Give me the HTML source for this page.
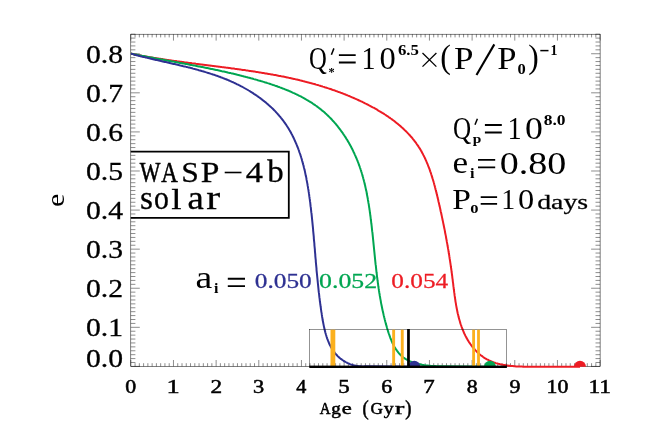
<!DOCTYPE html>
<html><head><meta charset="utf-8"><title>e vs Age</title>
<style>
html,body{margin:0;padding:0;background:#fff;}
svg{display:block;font-family:"Liberation Serif",serif;will-change:transform;}
</style></head>
<body>
<svg width="654" height="436" viewBox="0 0 654 436">
<rect width="654" height="436" fill="#fff"/>
<clipPath id="c"><rect x="130.8" y="34.2" width="469.3" height="333.7"/></clipPath><clipPath id="c2"><rect x="130.8" y="34.2" width="469.3" height="332.6"/></clipPath>
<path d="M130.80 366.4v-6.4M130.80 34.2v6.4M135.07 366.4v-3.2M135.07 34.2v3.2M139.33 366.4v-3.2M139.33 34.2v3.2M143.60 366.4v-3.2M143.60 34.2v3.2M147.87 366.4v-3.2M147.87 34.2v3.2M152.13 366.4v-3.2M152.13 34.2v3.2M156.40 366.4v-3.2M156.40 34.2v3.2M160.66 366.4v-3.2M160.66 34.2v3.2M164.93 366.4v-3.2M164.93 34.2v3.2M169.20 366.4v-3.2M169.20 34.2v3.2M173.46 366.4v-6.4M173.46 34.2v6.4M177.73 366.4v-3.2M177.73 34.2v3.2M182.00 366.4v-3.2M182.00 34.2v3.2M186.26 366.4v-3.2M186.26 34.2v3.2M190.53 366.4v-3.2M190.53 34.2v3.2M194.80 366.4v-3.2M194.80 34.2v3.2M199.06 366.4v-3.2M199.06 34.2v3.2M203.33 366.4v-3.2M203.33 34.2v3.2M207.59 366.4v-3.2M207.59 34.2v3.2M211.86 366.4v-3.2M211.86 34.2v3.2M216.13 366.4v-6.4M216.13 34.2v6.4M220.39 366.4v-3.2M220.39 34.2v3.2M224.66 366.4v-3.2M224.66 34.2v3.2M228.93 366.4v-3.2M228.93 34.2v3.2M233.19 366.4v-3.2M233.19 34.2v3.2M237.46 366.4v-3.2M237.46 34.2v3.2M241.73 366.4v-3.2M241.73 34.2v3.2M245.99 366.4v-3.2M245.99 34.2v3.2M250.26 366.4v-3.2M250.26 34.2v3.2M254.52 366.4v-3.2M254.52 34.2v3.2M258.79 366.4v-6.4M258.79 34.2v6.4M263.06 366.4v-3.2M263.06 34.2v3.2M267.32 366.4v-3.2M267.32 34.2v3.2M271.59 366.4v-3.2M271.59 34.2v3.2M275.86 366.4v-3.2M275.86 34.2v3.2M280.12 366.4v-3.2M280.12 34.2v3.2M284.39 366.4v-3.2M284.39 34.2v3.2M288.66 366.4v-3.2M288.66 34.2v3.2M292.92 366.4v-3.2M292.92 34.2v3.2M297.19 366.4v-3.2M297.19 34.2v3.2M301.45 366.4v-6.4M301.45 34.2v6.4M305.72 366.4v-3.2M305.72 34.2v3.2M309.99 366.4v-3.2M309.99 34.2v3.2M314.25 366.4v-3.2M314.25 34.2v3.2M318.52 366.4v-3.2M318.52 34.2v3.2M322.79 366.4v-3.2M322.79 34.2v3.2M327.05 366.4v-3.2M327.05 34.2v3.2M331.32 366.4v-3.2M331.32 34.2v3.2M335.59 366.4v-3.2M335.59 34.2v3.2M339.85 366.4v-3.2M339.85 34.2v3.2M344.12 366.4v-6.4M344.12 34.2v6.4M348.38 366.4v-3.2M348.38 34.2v3.2M352.65 366.4v-3.2M352.65 34.2v3.2M356.92 366.4v-3.2M356.92 34.2v3.2M361.18 366.4v-3.2M361.18 34.2v3.2M365.45 366.4v-3.2M365.45 34.2v3.2M369.72 366.4v-3.2M369.72 34.2v3.2M373.98 366.4v-3.2M373.98 34.2v3.2M378.25 366.4v-3.2M378.25 34.2v3.2M382.52 366.4v-3.2M382.52 34.2v3.2M386.78 366.4v-6.4M386.78 34.2v6.4M391.05 366.4v-3.2M391.05 34.2v3.2M395.31 366.4v-3.2M395.31 34.2v3.2M399.58 366.4v-3.2M399.58 34.2v3.2M403.85 366.4v-3.2M403.85 34.2v3.2M408.11 366.4v-3.2M408.11 34.2v3.2M412.38 366.4v-3.2M412.38 34.2v3.2M416.65 366.4v-3.2M416.65 34.2v3.2M420.91 366.4v-3.2M420.91 34.2v3.2M425.18 366.4v-3.2M425.18 34.2v3.2M429.45 366.4v-6.4M429.45 34.2v6.4M433.71 366.4v-3.2M433.71 34.2v3.2M437.98 366.4v-3.2M437.98 34.2v3.2M442.24 366.4v-3.2M442.24 34.2v3.2M446.51 366.4v-3.2M446.51 34.2v3.2M450.78 366.4v-3.2M450.78 34.2v3.2M455.04 366.4v-3.2M455.04 34.2v3.2M459.31 366.4v-3.2M459.31 34.2v3.2M463.58 366.4v-3.2M463.58 34.2v3.2M467.84 366.4v-3.2M467.84 34.2v3.2M472.11 366.4v-6.4M472.11 34.2v6.4M476.38 366.4v-3.2M476.38 34.2v3.2M480.64 366.4v-3.2M480.64 34.2v3.2M484.91 366.4v-3.2M484.91 34.2v3.2M489.17 366.4v-3.2M489.17 34.2v3.2M493.44 366.4v-3.2M493.44 34.2v3.2M497.71 366.4v-3.2M497.71 34.2v3.2M501.97 366.4v-3.2M501.97 34.2v3.2M506.24 366.4v-3.2M506.24 34.2v3.2M510.51 366.4v-3.2M510.51 34.2v3.2M514.77 366.4v-6.4M514.77 34.2v6.4M519.04 366.4v-3.2M519.04 34.2v3.2M523.31 366.4v-3.2M523.31 34.2v3.2M527.57 366.4v-3.2M527.57 34.2v3.2M531.84 366.4v-3.2M531.84 34.2v3.2M536.10 366.4v-3.2M536.10 34.2v3.2M540.37 366.4v-3.2M540.37 34.2v3.2M544.64 366.4v-3.2M544.64 34.2v3.2M548.90 366.4v-3.2M548.90 34.2v3.2M553.17 366.4v-3.2M553.17 34.2v3.2M557.44 366.4v-6.4M557.44 34.2v6.4M561.70 366.4v-3.2M561.70 34.2v3.2M565.97 366.4v-3.2M565.97 34.2v3.2M570.24 366.4v-3.2M570.24 34.2v3.2M574.50 366.4v-3.2M574.50 34.2v3.2M578.77 366.4v-3.2M578.77 34.2v3.2M583.03 366.4v-3.2M583.03 34.2v3.2M587.30 366.4v-3.2M587.30 34.2v3.2M591.57 366.4v-3.2M591.57 34.2v3.2M595.83 366.4v-3.2M595.83 34.2v3.2M600.10 366.4v-6.4M600.10 34.2v6.4M130.8 366.40h9M600.1 366.40h-9M130.8 362.49h4.6M600.1 362.49h-4.6M130.8 358.58h4.6M600.1 358.58h-4.6M130.8 354.68h4.6M600.1 354.68h-4.6M130.8 350.77h4.6M600.1 350.77h-4.6M130.8 346.86h4.6M600.1 346.86h-4.6M130.8 342.95h4.6M600.1 342.95h-4.6M130.8 339.04h4.6M600.1 339.04h-4.6M130.8 335.13h4.6M600.1 335.13h-4.6M130.8 331.23h4.6M600.1 331.23h-4.6M130.8 327.32h9M600.1 327.32h-9M130.8 323.41h4.6M600.1 323.41h-4.6M130.8 319.50h4.6M600.1 319.50h-4.6M130.8 315.59h4.6M600.1 315.59h-4.6M130.8 311.68h4.6M600.1 311.68h-4.6M130.8 307.78h4.6M600.1 307.78h-4.6M130.8 303.87h4.6M600.1 303.87h-4.6M130.8 299.96h4.6M600.1 299.96h-4.6M130.8 296.05h4.6M600.1 296.05h-4.6M130.8 292.14h4.6M600.1 292.14h-4.6M130.8 288.24h9M600.1 288.24h-9M130.8 284.33h4.6M600.1 284.33h-4.6M130.8 280.42h4.6M600.1 280.42h-4.6M130.8 276.51h4.6M600.1 276.51h-4.6M130.8 272.60h4.6M600.1 272.60h-4.6M130.8 268.69h4.6M600.1 268.69h-4.6M130.8 264.79h4.6M600.1 264.79h-4.6M130.8 260.88h4.6M600.1 260.88h-4.6M130.8 256.97h4.6M600.1 256.97h-4.6M130.8 253.06h4.6M600.1 253.06h-4.6M130.8 249.15h9M600.1 249.15h-9M130.8 245.24h4.6M600.1 245.24h-4.6M130.8 241.34h4.6M600.1 241.34h-4.6M130.8 237.43h4.6M600.1 237.43h-4.6M130.8 233.52h4.6M600.1 233.52h-4.6M130.8 229.61h4.6M600.1 229.61h-4.6M130.8 225.70h4.6M600.1 225.70h-4.6M130.8 221.80h4.6M600.1 221.80h-4.6M130.8 217.89h4.6M600.1 217.89h-4.6M130.8 213.98h4.6M600.1 213.98h-4.6M130.8 210.07h9M600.1 210.07h-9M130.8 206.16h4.6M600.1 206.16h-4.6M130.8 202.25h4.6M600.1 202.25h-4.6M130.8 198.35h4.6M600.1 198.35h-4.6M130.8 194.44h4.6M600.1 194.44h-4.6M130.8 190.53h4.6M600.1 190.53h-4.6M130.8 186.62h4.6M600.1 186.62h-4.6M130.8 182.71h4.6M600.1 182.71h-4.6M130.8 178.80h4.6M600.1 178.80h-4.6M130.8 174.90h4.6M600.1 174.90h-4.6M130.8 170.99h9M600.1 170.99h-9M130.8 167.08h4.6M600.1 167.08h-4.6M130.8 163.17h4.6M600.1 163.17h-4.6M130.8 159.26h4.6M600.1 159.26h-4.6M130.8 155.36h4.6M600.1 155.36h-4.6M130.8 151.45h4.6M600.1 151.45h-4.6M130.8 147.54h4.6M600.1 147.54h-4.6M130.8 143.63h4.6M600.1 143.63h-4.6M130.8 139.72h4.6M600.1 139.72h-4.6M130.8 135.81h4.6M600.1 135.81h-4.6M130.8 131.91h9M600.1 131.91h-9M130.8 128.00h4.6M600.1 128.00h-4.6M130.8 124.09h4.6M600.1 124.09h-4.6M130.8 120.18h4.6M600.1 120.18h-4.6M130.8 116.27h4.6M600.1 116.27h-4.6M130.8 112.36h4.6M600.1 112.36h-4.6M130.8 108.46h4.6M600.1 108.46h-4.6M130.8 104.55h4.6M600.1 104.55h-4.6M130.8 100.64h4.6M600.1 100.64h-4.6M130.8 96.73h4.6M600.1 96.73h-4.6M130.8 92.82h9M600.1 92.82h-9M130.8 88.92h4.6M600.1 88.92h-4.6M130.8 85.01h4.6M600.1 85.01h-4.6M130.8 81.10h4.6M600.1 81.10h-4.6M130.8 77.19h4.6M600.1 77.19h-4.6M130.8 73.28h4.6M600.1 73.28h-4.6M130.8 69.37h4.6M600.1 69.37h-4.6M130.8 65.47h4.6M600.1 65.47h-4.6M130.8 61.56h4.6M600.1 61.56h-4.6M130.8 57.65h4.6M600.1 57.65h-4.6M130.8 53.74h9M600.1 53.74h-9M130.8 49.83h4.6M600.1 49.83h-4.6M130.8 45.92h4.6M600.1 45.92h-4.6M130.8 42.02h4.6M600.1 42.02h-4.6M130.8 38.11h4.6M600.1 38.11h-4.6M130.8 34.20h4.6M600.1 34.20h-4.6" stroke="#000" stroke-width="0.45" fill="none"/>
<rect x="130.8" y="34.2" width="469.3" height="332.2" fill="none" stroke="#000" stroke-width="0.5"/>
<g clip-path="url(#c)" fill="none" stroke-width="2" stroke-linejoin="round">
<path d="M130.8 53.6 L131.8 53.8 L132.7 54.0 L133.7 54.2 L134.7 54.4 L135.7 54.6 L136.6 54.8 L137.6 54.9 L138.6 55.1 L139.6 55.3 L140.5 55.5 L141.5 55.7 L142.5 55.9 L143.5 56.0 L144.4 56.2 L145.4 56.4 L146.4 56.6 L147.4 56.7 L148.4 56.9 L149.3 57.1 L150.3 57.2 L151.3 57.4 L152.3 57.6 L153.3 57.7 L154.3 57.9 L155.2 58.0 L156.2 58.2 L157.2 58.4 L158.2 58.5 L159.2 58.7 L160.2 58.8 L161.2 59.0 L162.1 59.1 L163.1 59.3 L164.1 59.4 L165.1 59.6 L166.1 59.7 L167.1 59.9 L168.1 60.0 L169.1 60.2 L170.1 60.3 L171.0 60.4 L172.0 60.6 L173.0 60.7 L174.0 60.9 L175.0 61.0 L176.0 61.1 L177.0 61.3 L178.0 61.4 L179.0 61.5 L180.0 61.7 L181.0 61.8 L182.0 62.0 L183.0 62.1 L183.9 62.2 L184.9 62.4 L185.9 62.5 L186.9 62.6 L187.9 62.7 L188.9 62.9 L189.9 63.0 L190.9 63.1 L191.9 63.3 L192.9 63.4 L193.9 63.5 L194.9 63.6 L195.9 63.8 L196.9 63.9 L197.9 64.0 L198.9 64.2 L199.9 64.3 L200.9 64.4 L201.9 64.5 L202.9 64.7 L203.9 64.8 L204.9 64.9 L205.9 65.0 L206.9 65.2 L207.9 65.3 L208.9 65.4 L209.9 65.5 L210.8 65.7 L211.8 65.8 L212.8 65.9 L213.8 66.0 L214.8 66.2 L215.8 66.3 L216.8 66.4 L217.8 66.5 L218.8 66.7 L219.8 66.8 L220.8 66.9 L221.8 67.1 L222.8 67.2 L223.8 67.3 L224.8 67.4 L225.8 67.6 L226.8 67.7 L227.8 67.8 L228.8 68.0 L229.8 68.1 L230.8 68.2 L231.8 68.4 L232.8 68.5 L233.8 68.6 L234.8 68.8 L235.8 68.9 L236.8 69.0 L237.8 69.2 L238.8 69.3 L239.8 69.4 L240.8 69.6 L241.7 69.7 L242.7 69.9 L243.7 70.0 L244.7 70.1 L245.7 70.3 L246.7 70.4 L247.7 70.6 L248.7 70.7 L249.7 70.9 L250.7 71.0 L251.7 71.2 L252.7 71.3 L253.7 71.5 L254.7 71.6 L255.6 71.8 L256.6 71.9 L257.6 72.1 L258.6 72.2 L259.6 72.4 L260.6 72.6 L261.6 72.7 L262.6 72.9 L263.6 73.0 L264.5 73.2 L265.5 73.4 L266.5 73.5 L267.5 73.7 L268.5 73.9 L269.5 74.1 L270.5 74.2 L271.5 74.4 L272.4 74.6 L273.4 74.8 L274.4 74.9 L275.4 75.1 L276.4 75.3 L277.3 75.5 L278.3 75.7 L279.3 75.9 L280.3 76.1 L281.3 76.3 L282.3 76.4 L283.2 76.6 L284.2 76.8 L285.2 77.0 L286.2 77.2 L287.1 77.4 L288.1 77.6 L289.1 77.9 L290.1 78.1 L291.0 78.3 L292.0 78.5 L293.0 78.7 L294.0 78.9 L294.9 79.1 L295.9 79.4 L296.9 79.6 L297.8 79.8 L298.8 80.0 L299.8 80.3 L300.8 80.5 L301.7 80.7 L302.7 81.0 L303.7 81.2 L304.6 81.5 L305.6 81.7 L306.5 82.0 L307.5 82.2 L308.5 82.5 L309.4 82.7 L310.4 83.0 L311.4 83.2 L312.3 83.5 L313.3 83.8 L314.2 84.0 L315.2 84.3 L316.1 84.6 L317.1 84.9 L318.1 85.1 L319.0 85.4 L320.0 85.7 L320.9 86.0 L321.9 86.3 L322.8 86.6 L323.8 86.9 L324.7 87.2 L325.7 87.5 L326.6 87.8 L327.6 88.1 L328.5 88.4 L329.5 88.7 L330.4 89.0 L331.3 89.3 L332.3 89.7 L333.2 90.0 L334.2 90.3 L335.1 90.6 L336.0 91.0 L337.0 91.3 L337.9 91.7 L338.8 92.0 L339.8 92.3 L340.7 92.7 L341.6 93.0 L342.6 93.4 L343.5 93.8 L344.4 94.1 L345.4 94.5 L346.3 94.9 L347.2 95.2 L348.1 95.6 L349.1 96.0 L350.0 96.4 L350.9 96.8 L351.8 97.2 L352.8 97.6 L353.7 98.0 L354.6 98.4 L355.5 98.8 L356.4 99.2 L357.3 99.6 L358.2 100.0 L359.2 100.5 L360.1 100.9 L361.0 101.3 L361.9 101.7 L362.8 102.2 L363.7 102.6 L364.6 103.1 L365.5 103.5 L366.4 104.0 L367.3 104.4 L368.2 104.9 L369.1 105.4 L370.0 105.8 L370.9 106.3 L371.8 106.8 L372.7 107.3 L373.6 107.7 L374.5 108.2 L375.3 108.7 L376.2 109.2 L377.1 109.7 L378.0 110.3 L378.8 110.8 L379.7 111.3 L380.6 111.8 L381.4 112.3 L382.3 112.9 L383.2 113.4 L384.0 113.9 L384.9 114.5 L385.7 115.0 L386.5 115.6 L387.4 116.2 L388.2 116.7 L389.0 117.3 L389.9 117.9 L390.7 118.5 L391.5 119.0 L392.3 119.6 L393.1 120.2 L393.9 120.8 L394.7 121.4 L395.5 122.1 L396.3 122.7 L397.0 123.3 L397.8 123.9 L398.6 124.6 L399.4 125.2 L400.1 125.9 L400.9 126.5 L401.6 127.2 L402.3 127.8 L403.1 128.5 L403.8 129.2 L404.5 129.9 L405.2 130.5 L405.9 131.2 L406.6 131.9 L407.3 132.6 L408.0 133.4 L408.7 134.1 L409.3 134.8 L410.0 135.5 L410.7 136.3 L411.3 137.0 L411.9 137.7 L412.6 138.5 L413.2 139.3 L413.8 140.0 L414.4 140.8 L415.0 141.6 L415.6 142.4 L416.2 143.2 L416.7 144.0 L417.3 144.8 L417.9 145.6 L418.4 146.4 L418.9 147.2 L419.5 148.1 L420.0 148.9 L420.5 149.7 L421.0 150.6 L421.5 151.4 L421.9 152.3 L422.4 153.2 L422.9 154.1 L423.3 154.9 L423.8 155.8 L424.2 156.7 L424.7 157.6 L425.1 158.5 L425.5 159.4 L425.9 160.3 L426.3 161.2 L426.7 162.2 L427.1 163.1 L427.5 164.0 L427.9 165.0 L428.2 165.9 L428.6 166.8 L429.0 167.8 L429.3 168.7 L429.7 169.7 L430.0 170.6 L430.3 171.6 L430.7 172.5 L431.0 173.5 L431.3 174.5 L431.6 175.4 L431.9 176.4 L432.2 177.4 L432.5 178.4 L432.8 179.3 L433.1 180.3 L433.4 181.3 L433.7 182.3 L434.0 183.2 L434.2 184.2 L434.5 185.2 L434.8 186.2 L435.0 187.2 L435.3 188.2 L435.5 189.2 L435.8 190.2 L436.0 191.1 L436.3 192.1 L436.5 193.1 L436.8 194.1 L437.0 195.1 L437.3 196.1 L437.5 197.1 L437.7 198.1 L438.0 199.0 L438.2 200.0 L438.4 201.0 L438.6 202.0 L438.9 203.0 L439.1 204.0 L439.3 204.9 L439.5 205.9 L439.8 206.9 L440.0 207.9 L440.2 208.8 L440.4 209.8 L440.6 210.8 L440.8 211.8 L441.1 212.7 L441.3 213.7 L441.5 214.7 L441.7 215.6 L441.9 216.6 L442.1 217.6 L442.3 218.5 L442.5 219.5 L442.7 220.5 L442.9 221.4 L443.1 222.4 L443.3 223.4 L443.5 224.3 L443.7 225.3 L443.9 226.3 L444.1 227.2 L444.3 228.2 L444.5 229.1 L444.7 230.1 L444.9 231.1 L445.0 232.0 L445.2 233.0 L445.4 234.0 L445.6 234.9 L445.8 235.9 L446.0 236.8 L446.1 237.8 L446.3 238.8 L446.5 239.7 L446.7 240.7 L446.8 241.7 L447.0 242.6 L447.2 243.6 L447.4 244.6 L447.5 245.5 L447.7 246.5 L447.9 247.5 L448.0 248.4 L448.2 249.4 L448.4 250.4 L448.5 251.3 L448.7 252.3 L448.8 253.3 L449.0 254.3 L449.2 255.2 L449.3 256.2 L449.5 257.2 L449.6 258.2 L449.8 259.2 L449.9 260.1 L450.1 261.1 L450.2 262.1 L450.4 263.1 L450.5 264.1 L450.7 265.1 L450.8 266.1 L450.9 267.0 L451.1 268.0 L451.2 269.0 L451.4 270.0 L451.5 271.0 L451.6 272.0 L451.8 273.0 L451.9 274.0 L452.0 275.0 L452.2 276.0 L452.3 277.1 L452.4 278.1 L452.6 279.1 L452.7 280.1 L452.8 281.1 L452.9 282.1 L453.1 283.1 L453.2 284.2 L453.3 285.2 L453.4 286.2 L453.6 287.2 L453.7 288.3 L453.8 289.3 L454.0 290.3 L454.1 291.3 L454.2 292.4 L454.4 293.4 L454.5 294.4 L454.6 295.4 L454.8 296.5 L454.9 297.5 L455.1 298.5 L455.2 299.5 L455.4 300.6 L455.5 301.6 L455.7 302.6 L455.9 303.6 L456.0 304.6 L456.2 305.6 L456.4 306.6 L456.6 307.7 L456.8 308.7 L457.0 309.7 L457.2 310.7 L457.4 311.7 L457.6 312.7 L457.8 313.7 L458.1 314.6 L458.3 315.6 L458.5 316.6 L458.8 317.6 L459.0 318.6 L459.3 319.5 L459.6 320.5 L459.9 321.5 L460.1 322.4 L460.4 323.4 L460.7 324.3 L461.1 325.3 L461.4 326.2 L461.7 327.1 L462.1 328.1 L462.4 329.0 L462.8 329.9 L463.2 330.8 L463.5 331.7 L463.9 332.6 L464.3 333.5 L464.8 334.4 L465.2 335.3 L465.6 336.2 L466.1 337.0 L466.5 337.9 L467.0 338.7 L467.5 339.6 L468.0 340.4 L468.5 341.2 L469.0 342.1 L469.6 342.9 L470.1 343.7 L470.7 344.5 L471.3 345.3 L471.8 346.0 L472.4 346.8 L473.0 347.5 L473.7 348.3 L474.3 349.0 L474.9 349.7 L475.6 350.4 L476.3 351.1 L476.9 351.8 L477.6 352.5 L478.3 353.1 L479.1 353.7 L479.8 354.4 L480.5 355.0 L481.3 355.6 L482.1 356.1 L482.8 356.7 L483.6 357.3 L484.4 357.8 L485.2 358.3 L486.1 358.8 L486.9 359.3 L487.7 359.7 L488.6 360.2 L489.5 360.6 L490.4 361.0 L491.3 361.4 L492.2 361.8 L493.1 362.1 L494.0 362.5 L495.0 362.8 L495.9 363.1 L496.9 363.4 L497.8 363.6 L498.8 363.9 L499.8 364.1 L500.8 364.4 L501.8 364.6 L502.8 364.8 L503.8 365.0 L504.8 365.1 L505.8 365.3 L506.8 365.5 L507.8 365.6 L508.8 365.7 L509.9 365.8 L510.9 366.0 L511.9 366.1 L512.9 366.1 L514.0 366.2 L515.0 366.3 L516.0 366.4 L517.0 366.4 L518.0 366.5 L519.0 366.5 L520.0 366.6 L521.0 366.6 L522.0 366.6 L523.0 366.7 L524.0 366.7 L525.0 366.7 L580.0 366.7" stroke="#ed1c24"/>
<path d="M130.8 53.6 L131.8 53.8 L132.8 54.0 L133.8 54.2 L134.8 54.4 L135.8 54.6 L136.8 54.8 L137.7 55.0 L138.7 55.2 L139.7 55.4 L140.7 55.6 L141.7 55.8 L142.7 55.9 L143.7 56.1 L144.7 56.3 L145.7 56.5 L146.6 56.7 L147.6 56.9 L148.6 57.1 L149.6 57.3 L150.6 57.4 L151.6 57.6 L152.6 57.8 L153.5 58.0 L154.5 58.2 L155.5 58.4 L156.5 58.6 L157.5 58.7 L158.5 58.9 L159.4 59.1 L160.4 59.3 L161.4 59.5 L162.4 59.6 L163.4 59.8 L164.4 60.0 L165.3 60.2 L166.3 60.4 L167.3 60.5 L168.3 60.7 L169.3 60.9 L170.2 61.1 L171.2 61.3 L172.2 61.4 L173.2 61.6 L174.2 61.8 L175.1 62.0 L176.1 62.2 L177.1 62.3 L178.1 62.5 L179.1 62.7 L180.0 62.9 L181.0 63.0 L182.0 63.2 L183.0 63.4 L183.9 63.6 L184.9 63.8 L185.9 64.0 L186.9 64.1 L187.8 64.3 L188.8 64.5 L189.8 64.7 L190.8 64.9 L191.7 65.1 L192.7 65.2 L193.7 65.4 L194.7 65.6 L195.6 65.8 L196.6 66.0 L197.6 66.2 L198.6 66.4 L199.5 66.5 L200.5 66.7 L201.5 66.9 L202.5 67.1 L203.4 67.3 L204.4 67.5 L205.4 67.7 L206.4 67.9 L207.3 68.1 L208.3 68.3 L209.3 68.5 L210.2 68.7 L211.2 68.9 L212.2 69.1 L213.2 69.3 L214.1 69.5 L215.1 69.7 L216.1 69.9 L217.1 70.1 L218.0 70.3 L219.0 70.5 L220.0 70.7 L220.9 70.9 L221.9 71.2 L222.9 71.4 L223.9 71.6 L224.8 71.8 L225.8 72.0 L226.8 72.2 L227.7 72.5 L228.7 72.7 L229.7 72.9 L230.7 73.1 L231.6 73.4 L232.6 73.6 L233.6 73.8 L234.5 74.1 L235.5 74.3 L236.5 74.5 L237.4 74.8 L238.4 75.0 L239.4 75.2 L240.4 75.5 L241.3 75.7 L242.3 76.0 L243.3 76.2 L244.2 76.5 L245.2 76.7 L246.2 77.0 L247.2 77.2 L248.1 77.5 L249.1 77.7 L250.1 78.0 L251.0 78.3 L252.0 78.5 L253.0 78.8 L253.9 79.1 L254.9 79.4 L255.9 79.6 L256.9 79.9 L257.8 80.2 L258.8 80.5 L259.8 80.7 L260.7 81.0 L261.7 81.3 L262.7 81.6 L263.7 81.9 L264.6 82.2 L265.6 82.5 L266.6 82.8 L267.5 83.1 L268.5 83.4 L269.5 83.7 L270.4 84.0 L271.4 84.4 L272.4 84.7 L273.3 85.0 L274.3 85.3 L275.2 85.7 L276.2 86.0 L277.1 86.3 L278.1 86.7 L279.0 87.0 L280.0 87.4 L280.9 87.7 L281.9 88.1 L282.8 88.5 L283.8 88.8 L284.7 89.2 L285.7 89.6 L286.6 90.0 L287.5 90.3 L288.5 90.7 L289.4 91.1 L290.3 91.5 L291.2 91.9 L292.1 92.3 L293.1 92.8 L294.0 93.2 L294.9 93.6 L295.8 94.0 L296.7 94.5 L297.6 94.9 L298.5 95.3 L299.4 95.8 L300.3 96.2 L301.2 96.7 L302.0 97.2 L302.9 97.6 L303.8 98.1 L304.7 98.6 L305.5 99.1 L306.4 99.6 L307.2 100.1 L308.1 100.6 L308.9 101.1 L309.8 101.6 L310.6 102.2 L311.5 102.7 L312.3 103.2 L313.1 103.8 L313.9 104.3 L314.8 104.9 L315.6 105.5 L316.4 106.0 L317.2 106.6 L318.0 107.2 L318.7 107.8 L319.5 108.4 L320.3 109.0 L321.1 109.6 L321.8 110.2 L322.6 110.9 L323.4 111.5 L324.1 112.1 L324.9 112.8 L325.6 113.5 L326.3 114.1 L327.0 114.8 L327.8 115.5 L328.5 116.2 L329.2 116.9 L329.9 117.6 L330.6 118.3 L331.3 119.0 L331.9 119.7 L332.6 120.5 L333.3 121.2 L333.9 121.9 L334.6 122.7 L335.3 123.4 L335.9 124.2 L336.5 125.0 L337.2 125.7 L337.8 126.5 L338.4 127.3 L339.0 128.1 L339.6 128.9 L340.2 129.7 L340.8 130.5 L341.4 131.3 L342.0 132.1 L342.6 132.9 L343.1 133.7 L343.7 134.6 L344.3 135.4 L344.8 136.2 L345.4 137.1 L345.9 137.9 L346.4 138.8 L347.0 139.6 L347.5 140.5 L348.0 141.4 L348.5 142.2 L349.0 143.1 L349.5 144.0 L350.0 144.9 L350.5 145.7 L350.9 146.6 L351.4 147.5 L351.9 148.4 L352.3 149.3 L352.8 150.2 L353.2 151.1 L353.6 152.0 L354.1 152.9 L354.5 153.8 L354.9 154.8 L355.3 155.7 L355.7 156.6 L356.1 157.5 L356.5 158.4 L356.9 159.4 L357.3 160.3 L357.6 161.2 L358.0 162.2 L358.4 163.1 L358.7 164.0 L359.0 165.0 L359.4 165.9 L359.7 166.8 L360.0 167.8 L360.4 168.7 L360.7 169.7 L361.0 170.6 L361.3 171.6 L361.6 172.5 L361.9 173.5 L362.2 174.4 L362.4 175.4 L362.7 176.4 L363.0 177.3 L363.2 178.3 L363.5 179.2 L363.8 180.2 L364.0 181.2 L364.3 182.1 L364.5 183.1 L364.7 184.1 L365.0 185.0 L365.2 186.0 L365.4 187.0 L365.6 187.9 L365.8 188.9 L366.0 189.9 L366.3 190.9 L366.5 191.8 L366.7 192.8 L366.8 193.8 L367.0 194.8 L367.2 195.8 L367.4 196.7 L367.6 197.7 L367.8 198.7 L367.9 199.7 L368.1 200.7 L368.3 201.7 L368.4 202.7 L368.6 203.6 L368.8 204.6 L368.9 205.6 L369.1 206.6 L369.2 207.6 L369.4 208.6 L369.5 209.6 L369.7 210.6 L369.8 211.5 L369.9 212.5 L370.1 213.5 L370.2 214.5 L370.3 215.5 L370.5 216.5 L370.6 217.5 L370.7 218.5 L370.8 219.5 L371.0 220.5 L371.1 221.5 L371.2 222.5 L371.3 223.5 L371.5 224.5 L371.6 225.5 L371.7 226.4 L371.8 227.4 L371.9 228.4 L372.0 229.4 L372.1 230.4 L372.2 231.4 L372.4 232.4 L372.5 233.4 L372.6 234.4 L372.7 235.4 L372.8 236.4 L372.9 237.4 L373.0 238.4 L373.1 239.4 L373.2 240.4 L373.3 241.4 L373.4 242.4 L373.5 243.4 L373.6 244.4 L373.7 245.4 L373.8 246.4 L373.9 247.4 L374.0 248.4 L374.1 249.4 L374.2 250.4 L374.3 251.4 L374.4 252.4 L374.5 253.4 L374.6 254.4 L374.7 255.4 L374.8 256.4 L374.9 257.4 L375.0 258.4 L375.1 259.4 L375.2 260.4 L375.3 261.4 L375.4 262.4 L375.5 263.4 L375.6 264.4 L375.8 265.4 L375.9 266.4 L376.0 267.4 L376.1 268.4 L376.2 269.4 L376.3 270.3 L376.4 271.3 L376.5 272.3 L376.7 273.3 L376.8 274.3 L376.9 275.3 L377.0 276.3 L377.1 277.3 L377.3 278.3 L377.4 279.3 L377.5 280.3 L377.7 281.3 L377.8 282.3 L377.9 283.3 L378.1 284.3 L378.2 285.3 L378.3 286.3 L378.5 287.3 L378.6 288.2 L378.8 289.2 L378.9 290.2 L379.1 291.2 L379.2 292.2 L379.4 293.2 L379.6 294.2 L379.7 295.2 L379.9 296.2 L380.1 297.2 L380.2 298.1 L380.4 299.1 L380.6 300.1 L380.8 301.1 L380.9 302.1 L381.1 303.1 L381.3 304.1 L381.5 305.0 L381.7 306.0 L381.9 307.0 L382.1 308.0 L382.3 309.0 L382.5 310.0 L382.7 310.9 L382.9 311.9 L383.2 312.9 L383.4 313.9 L383.6 314.9 L383.8 315.8 L384.1 316.8 L384.3 317.8 L384.6 318.8 L384.8 319.7 L385.1 320.7 L385.3 321.7 L385.6 322.7 L385.8 323.6 L386.1 324.6 L386.4 325.6 L386.7 326.6 L386.9 327.5 L387.2 328.5 L387.5 329.5 L387.8 330.4 L388.1 331.4 L388.4 332.4 L388.7 333.3 L389.1 334.3 L389.4 335.2 L389.7 336.2 L390.1 337.1 L390.4 338.1 L390.8 339.0 L391.2 339.9 L391.5 340.8 L391.9 341.7 L392.3 342.6 L392.7 343.5 L393.2 344.4 L393.6 345.3 L394.1 346.1 L394.5 347.0 L395.0 347.8 L395.5 348.6 L396.0 349.4 L396.6 350.2 L397.1 350.9 L397.7 351.7 L398.2 352.4 L398.8 353.1 L399.4 353.8 L400.1 354.5 L400.7 355.2 L401.4 355.8 L402.1 356.4 L402.8 357.0 L403.6 357.6 L404.3 358.1 L405.1 358.7 L405.9 359.2 L406.7 359.6 L407.6 360.1 L408.4 360.5 L409.3 361.0 L410.2 361.4 L411.1 361.7 L412.0 362.1 L412.9 362.4 L413.9 362.7 L414.8 363.1 L415.8 363.3 L416.8 363.6 L417.8 363.9 L418.8 364.1 L419.8 364.3 L420.8 364.5 L421.8 364.7 L422.8 364.9 L423.8 365.1 L424.8 365.2 L425.9 365.4 L426.9 365.5 L427.9 365.6 L429.0 365.7 L430.0 365.8 L431.0 365.9 L432.0 366.0 L433.1 366.0 L434.1 366.1 L435.1 366.1 L436.1 366.2 L437.1 366.2 L438.1 366.3 L439.0 366.3 L440.0 366.3 L440.0 366.3 L490.0 366.7" stroke="#00a651"/>
<path d="M130.8 53.6 L131.8 53.9 L132.7 54.1 L133.7 54.4 L134.6 54.7 L135.6 54.9 L136.6 55.2 L137.5 55.4 L138.5 55.7 L139.5 55.9 L140.4 56.2 L141.4 56.4 L142.4 56.7 L143.4 56.9 L144.3 57.1 L145.3 57.4 L146.3 57.6 L147.2 57.8 L148.2 58.1 L149.2 58.3 L150.2 58.5 L151.1 58.8 L152.1 59.0 L153.1 59.2 L154.1 59.4 L155.0 59.7 L156.0 59.9 L157.0 60.1 L158.0 60.3 L158.9 60.6 L159.9 60.8 L160.9 61.0 L161.9 61.2 L162.8 61.5 L163.8 61.7 L164.8 61.9 L165.8 62.1 L166.8 62.3 L167.7 62.6 L168.7 62.8 L169.7 63.0 L170.7 63.2 L171.6 63.4 L172.6 63.7 L173.6 63.9 L174.6 64.1 L175.5 64.3 L176.5 64.6 L177.5 64.8 L178.5 65.0 L179.4 65.2 L180.4 65.5 L181.4 65.7 L182.4 65.9 L183.3 66.2 L184.3 66.4 L185.3 66.6 L186.3 66.9 L187.2 67.1 L188.2 67.4 L189.2 67.6 L190.1 67.8 L191.1 68.1 L192.1 68.3 L193.0 68.6 L194.0 68.9 L195.0 69.1 L195.9 69.4 L196.9 69.6 L197.9 69.9 L198.8 70.2 L199.8 70.4 L200.8 70.7 L201.7 71.0 L202.7 71.2 L203.6 71.5 L204.6 71.8 L205.5 72.1 L206.5 72.4 L207.4 72.7 L208.4 73.0 L209.3 73.3 L210.3 73.6 L211.2 73.9 L212.2 74.2 L213.1 74.5 L214.1 74.8 L215.0 75.1 L216.0 75.5 L216.9 75.8 L217.8 76.1 L218.8 76.5 L219.7 76.8 L220.7 77.2 L221.6 77.5 L222.5 77.9 L223.4 78.2 L224.4 78.6 L225.3 79.0 L226.2 79.3 L227.2 79.7 L228.1 80.1 L229.0 80.5 L229.9 80.9 L230.8 81.3 L231.7 81.7 L232.7 82.1 L233.6 82.5 L234.5 83.0 L235.4 83.4 L236.3 83.8 L237.2 84.3 L238.1 84.7 L239.0 85.2 L239.9 85.6 L240.8 86.1 L241.7 86.5 L242.6 87.0 L243.5 87.5 L244.3 88.0 L245.2 88.5 L246.1 89.0 L247.0 89.5 L247.9 90.0 L248.7 90.5 L249.6 91.0 L250.5 91.6 L251.3 92.1 L252.2 92.7 L253.0 93.2 L253.9 93.8 L254.7 94.3 L255.6 94.9 L256.4 95.4 L257.2 96.0 L258.1 96.6 L258.9 97.2 L259.7 97.8 L260.5 98.4 L261.3 99.0 L262.1 99.6 L262.9 100.2 L263.7 100.9 L264.5 101.5 L265.3 102.1 L266.1 102.8 L266.8 103.4 L267.6 104.1 L268.3 104.7 L269.1 105.4 L269.8 106.1 L270.6 106.7 L271.3 107.4 L272.0 108.1 L272.8 108.8 L273.5 109.5 L274.2 110.2 L274.9 110.9 L275.6 111.6 L276.2 112.4 L276.9 113.1 L277.6 113.8 L278.2 114.6 L278.9 115.3 L279.5 116.1 L280.2 116.8 L280.8 117.6 L281.4 118.3 L282.0 119.1 L282.6 119.9 L283.2 120.7 L283.8 121.5 L284.4 122.3 L285.0 123.1 L285.5 123.9 L286.1 124.7 L286.6 125.5 L287.1 126.3 L287.7 127.2 L288.2 128.0 L288.7 128.8 L289.2 129.7 L289.7 130.5 L290.2 131.4 L290.7 132.2 L291.1 133.1 L291.6 134.0 L292.1 134.8 L292.5 135.7 L292.9 136.6 L293.4 137.5 L293.8 138.3 L294.2 139.2 L294.6 140.1 L295.0 141.0 L295.4 141.9 L295.8 142.8 L296.2 143.7 L296.6 144.7 L297.0 145.6 L297.3 146.5 L297.7 147.4 L298.1 148.3 L298.4 149.3 L298.8 150.2 L299.1 151.1 L299.4 152.1 L299.7 153.0 L300.1 154.0 L300.4 154.9 L300.7 155.9 L301.0 156.8 L301.3 157.8 L301.6 158.7 L301.9 159.7 L302.1 160.7 L302.4 161.6 L302.7 162.6 L302.9 163.6 L303.2 164.6 L303.5 165.5 L303.7 166.5 L303.9 167.5 L304.2 168.5 L304.4 169.4 L304.7 170.4 L304.9 171.4 L305.1 172.4 L305.3 173.4 L305.5 174.4 L305.7 175.4 L306.0 176.4 L306.2 177.4 L306.4 178.4 L306.5 179.4 L306.7 180.4 L306.9 181.4 L307.1 182.4 L307.3 183.4 L307.5 184.4 L307.6 185.4 L307.8 186.4 L308.0 187.4 L308.1 188.4 L308.3 189.4 L308.5 190.4 L308.6 191.4 L308.8 192.4 L308.9 193.4 L309.1 194.4 L309.2 195.4 L309.3 196.4 L309.5 197.4 L309.6 198.4 L309.8 199.4 L309.9 200.4 L310.0 201.4 L310.2 202.4 L310.3 203.4 L310.4 204.4 L310.5 205.4 L310.6 206.4 L310.8 207.4 L310.9 208.4 L311.0 209.4 L311.1 210.4 L311.2 211.4 L311.3 212.4 L311.5 213.4 L311.6 214.4 L311.7 215.4 L311.8 216.4 L311.9 217.4 L312.0 218.4 L312.1 219.4 L312.2 220.3 L312.3 221.3 L312.4 222.3 L312.5 223.3 L312.6 224.3 L312.7 225.3 L312.8 226.3 L312.9 227.3 L313.0 228.3 L313.1 229.2 L313.1 230.2 L313.2 231.2 L313.3 232.2 L313.4 233.2 L313.5 234.2 L313.6 235.2 L313.7 236.1 L313.8 237.1 L313.8 238.1 L313.9 239.1 L314.0 240.1 L314.1 241.1 L314.2 242.0 L314.3 243.0 L314.4 244.0 L314.4 245.0 L314.5 246.0 L314.6 247.0 L314.7 247.9 L314.8 248.9 L314.9 249.9 L314.9 250.9 L315.0 251.9 L315.1 252.9 L315.2 253.8 L315.3 254.8 L315.3 255.8 L315.4 256.8 L315.5 257.8 L315.6 258.8 L315.7 259.7 L315.8 260.7 L315.8 261.7 L315.9 262.7 L316.0 263.7 L316.1 264.7 L316.2 265.6 L316.3 266.6 L316.4 267.6 L316.5 268.6 L316.5 269.6 L316.6 270.6 L316.7 271.6 L316.8 272.6 L316.9 273.5 L317.0 274.5 L317.1 275.5 L317.2 276.5 L317.3 277.5 L317.4 278.5 L317.5 279.5 L317.6 280.5 L317.7 281.5 L317.8 282.5 L317.9 283.5 L318.0 284.5 L318.1 285.4 L318.2 286.4 L318.3 287.4 L318.4 288.4 L318.5 289.4 L318.6 290.4 L318.7 291.4 L318.8 292.4 L319.0 293.4 L319.1 294.4 L319.2 295.4 L319.3 296.4 L319.4 297.4 L319.6 298.5 L319.7 299.5 L319.8 300.5 L319.9 301.5 L320.1 302.5 L320.2 303.5 L320.3 304.5 L320.5 305.5 L320.6 306.5 L320.8 307.5 L320.9 308.6 L321.0 309.6 L321.2 310.6 L321.3 311.6 L321.5 312.6 L321.7 313.6 L321.8 314.7 L322.0 315.7 L322.1 316.7 L322.3 317.7 L322.5 318.8 L322.6 319.8 L322.8 320.8 L323.0 321.8 L323.2 322.8 L323.4 323.9 L323.6 324.9 L323.8 325.9 L324.0 326.9 L324.2 327.9 L324.5 328.9 L324.7 329.9 L324.9 330.9 L325.2 331.9 L325.4 332.8 L325.7 333.8 L326.0 334.8 L326.3 335.7 L326.6 336.7 L326.9 337.6 L327.2 338.6 L327.6 339.5 L327.9 340.4 L328.3 341.3 L328.6 342.2 L329.0 343.1 L329.4 344.0 L329.8 344.9 L330.3 345.7 L330.7 346.6 L331.2 347.4 L331.7 348.2 L332.1 349.0 L332.6 349.8 L333.2 350.6 L333.7 351.4 L334.3 352.1 L334.8 352.9 L335.4 353.6 L336.0 354.3 L336.7 355.0 L337.3 355.7 L338.0 356.4 L338.7 357.0 L339.4 357.7 L340.1 358.3 L340.8 358.9 L341.6 359.4 L342.4 360.0 L343.2 360.5 L344.0 361.1 L344.8 361.5 L345.6 362.0 L346.5 362.5 L347.3 362.9 L348.2 363.3 L349.1 363.7 L350.0 364.1 L350.9 364.4 L351.9 364.7 L352.8 365.0 L353.8 365.3 L354.7 365.5 L355.7 365.7 L356.7 365.9 L357.7 366.0 L358.7 366.2 L359.7 366.3 L360.7 366.3 L361.8 366.4 L362.8 366.4 L363.9 366.4 L364.9 366.3 L365.0 366.3 L414.3 366.7" stroke="#2e3192"/>
</g>
<rect x="309.6" y="329.3" width="196.9" height="37.1" fill="none" stroke="#000" stroke-width="0.42"/>
<rect x="330.5" y="329.7" width="4.8" height="36.7" fill="#fbb01e"/>
<rect x="392.2" y="329.7" width="2.9" height="36.7" fill="#fbb01e"/>
<rect x="400.8" y="329.7" width="2.9" height="36.7" fill="#fbb01e"/>
<rect x="472.2" y="329.7" width="2.8" height="36.7" fill="#fbb01e"/>
<rect x="477.1" y="329.7" width="2.8" height="36.7" fill="#fbb01e"/>
<g clip-path="url(#c2)">
<circle cx="414.3" cy="366.6" r="5.95" fill="#2e3192"/>
<circle cx="490" cy="366.6" r="5.95" fill="#00a651"/>
<circle cx="580.0" cy="366.6" r="5.95" fill="#ed1c24"/>
</g>
<rect x="309.3" y="365.6" width="197.6" height="2.4" fill="#000"/>
<rect x="407.1" y="329.0" width="2.75" height="38" fill="#000"/>
<path d="M130.8 151.6H288.8V217.9H130.8" fill="none" stroke="#000" stroke-width="1.8"/>
<text transform="matrix(0.2966 0 0 0.2421 85.96 366.60)" font-size="100" stroke="#000" stroke-width="0.3" vector-effect="non-scaling-stroke" fill="#000">0.0</text>
<text transform="matrix(0.2966 0 0 0.2421 85.96 336.12)" font-size="100" stroke="#000" stroke-width="0.3" vector-effect="non-scaling-stroke" fill="#000">0.1</text>
<text transform="matrix(0.2966 0 0 0.2421 85.96 297.04)" font-size="100" stroke="#000" stroke-width="0.3" vector-effect="non-scaling-stroke" fill="#000">0.2</text>
<text transform="matrix(0.2966 0 0 0.2421 85.96 257.95)" font-size="100" stroke="#000" stroke-width="0.3" vector-effect="non-scaling-stroke" fill="#000">0.3</text>
<text transform="matrix(0.2966 0 0 0.2421 85.96 218.87)" font-size="100" stroke="#000" stroke-width="0.3" vector-effect="non-scaling-stroke" fill="#000">0.4</text>
<text transform="matrix(0.2966 0 0 0.2421 85.96 179.79)" font-size="100" stroke="#000" stroke-width="0.3" vector-effect="non-scaling-stroke" fill="#000">0.5</text>
<text transform="matrix(0.2966 0 0 0.2421 85.96 140.71)" font-size="100" stroke="#000" stroke-width="0.3" vector-effect="non-scaling-stroke" fill="#000">0.6</text>
<text transform="matrix(0.2966 0 0 0.2421 85.96 101.62)" font-size="100" stroke="#000" stroke-width="0.3" vector-effect="non-scaling-stroke" fill="#000">0.7</text>
<text transform="matrix(0.2966 0 0 0.2421 85.96 62.54)" font-size="100" stroke="#000" stroke-width="0.3" vector-effect="non-scaling-stroke" fill="#000">0.8</text>
<text transform="matrix(0.2186 0 0 0.1865 125.33 392.80)" font-size="100" stroke="#000" stroke-width="0.55" vector-effect="non-scaling-stroke" fill="#000">0</text>
<text transform="matrix(0.2648 0 0 0.1865 166.51 392.80)" font-size="100" stroke="#000" stroke-width="0.55" vector-effect="non-scaling-stroke" fill="#000">1</text>
<text transform="matrix(0.2321 0 0 0.1865 210.50 392.80)" font-size="100" stroke="#000" stroke-width="0.55" vector-effect="non-scaling-stroke" fill="#000">2</text>
<text transform="matrix(0.2238 0 0 0.1865 253.08 392.80)" font-size="100" stroke="#000" stroke-width="0.55" vector-effect="non-scaling-stroke" fill="#000">3</text>
<text transform="matrix(0.2022 0 0 0.1865 296.35 392.80)" font-size="100" stroke="#000" stroke-width="0.55" vector-effect="non-scaling-stroke" fill="#000">4</text>
<text transform="matrix(0.2293 0 0 0.1865 338.16 392.80)" font-size="100" stroke="#000" stroke-width="0.55" vector-effect="non-scaling-stroke" fill="#000">5</text>
<text transform="matrix(0.2186 0 0 0.1865 381.21 392.80)" font-size="100" stroke="#000" stroke-width="0.55" vector-effect="non-scaling-stroke" fill="#000">6</text>
<text transform="matrix(0.2293 0 0 0.1865 423.26 392.80)" font-size="100" stroke="#000" stroke-width="0.55" vector-effect="non-scaling-stroke" fill="#000">7</text>
<text transform="matrix(0.2186 0 0 0.1865 466.64 392.80)" font-size="100" stroke="#000" stroke-width="0.55" vector-effect="non-scaling-stroke" fill="#000">8</text>
<text transform="matrix(0.2186 0 0 0.1865 509.42 392.80)" font-size="100" stroke="#000" stroke-width="0.55" vector-effect="non-scaling-stroke" fill="#000">9</text>
<text transform="matrix(0.2182 0 0 0.1865 546.58 392.80)" font-size="100" stroke="#000" stroke-width="0.55" vector-effect="non-scaling-stroke" fill="#000">10</text>
<text transform="matrix(0.2341 0 0 0.1865 588.51 392.80)" font-size="100" stroke="#000" stroke-width="0.55" vector-effect="non-scaling-stroke" fill="#000">11</text>
<text transform="matrix(0.1489 0 0 0.1725 319.65 414.40)" font-size="100" stroke="#000" stroke-width="0.55" vector-effect="non-scaling-stroke" fill="#000">A</text>
<text transform="matrix(0.1910 0 0 0.1725 331.14 414.40)" font-size="100" stroke="#000" stroke-width="0.55" vector-effect="non-scaling-stroke" fill="#000">g</text>
<text transform="matrix(0.2267 0 0 0.1725 341.81 414.40)" font-size="100" stroke="#000" stroke-width="0.55" vector-effect="non-scaling-stroke" fill="#000">e</text>
<text transform="matrix(0.1710 0 0 0.1725 370.52 414.40)" font-size="100" stroke="#000" stroke-width="0.55" vector-effect="non-scaling-stroke" fill="#000">G</text>
<text transform="matrix(0.1980 0 0 0.1725 383.80 414.40)" font-size="100" stroke="#000" stroke-width="0.55" vector-effect="non-scaling-stroke" fill="#000">y</text>
<text transform="matrix(0.2885 0 0 0.1725 394.72 414.40)" font-size="100" stroke="#000" stroke-width="0.55" vector-effect="non-scaling-stroke" fill="#000">r</text>
<text transform="matrix(0.1846 0 0 0.2066 362.46 414.56)" font-size="100" stroke="#000" stroke-width="0.55" vector-effect="non-scaling-stroke" fill="#000">(</text>
<text transform="matrix(0.1846 0 0 0.2066 405.15 414.56)" font-size="100" stroke="#000" stroke-width="0.55" vector-effect="non-scaling-stroke" fill="#000">)</text>
<g transform="translate(58.2 200.4) rotate(-90)">
<text transform="matrix(0.3013 0 0 0.2437 -6.70 5.61)" font-size="100" fill="#000">e</text>
</g>
<text transform="matrix(0.2466 0 0 0.3227 309.01 69.00)" font-size="100" fill="#000">Q</text>
<path d="M333.9 48.4L331.4 54.7" stroke="#000" stroke-width="1.5" fill="none"/>
<text transform="matrix(0.1238 0 0 0.1200 328.50 75.72)" font-size="100" font-weight="bold" fill="#000">*</text>
<path d="M338.9 55.2H355.7M338.9 62.5H355.7" stroke="#000" stroke-width="1.8" fill="none"/>
<text transform="matrix(0.2817 0 0 0.3242 361.51 69.20)" font-size="100" fill="#000">1</text>
<text transform="matrix(0.3256 0 0 0.3242 379.46 69.20)" font-size="100" fill="#000">0</text>
<text transform="matrix(0.1686 0 0 0.1393 397.91 54.79)" font-size="100" font-weight="bold" fill="#000">6.5</text>
<path d="M422.5 53.0L436.4 66.6M436.4 53.0L422.5 66.6" stroke="#000" stroke-width="1.3" fill="none"/>
<text transform="matrix(0.3192 0 0 0.3396 440.32 67.70)" font-size="100" fill="#000">(</text>
<text transform="matrix(0.3495 0 0 0.3191 454.03 68.90)" font-size="100" fill="#000">P</text>
<path d="M494.3 44.4L476.5 75.0" stroke="#000" stroke-width="2.1" fill="none"/>
<text transform="matrix(0.3455 0 0 0.3191 497.34 68.90)" font-size="100" fill="#000">P</text>
<text transform="matrix(0.1651 0 0 0.1407 517.52 73.66)" font-size="100" font-weight="bold" fill="#000">0</text>
<text transform="matrix(0.3154 0 0 0.3396 528.35 67.70)" font-size="100" fill="#000">)</text>
<path d="M540.3 50.6L548.5 50.6" stroke="#000" stroke-width="1.5" fill="none"/>
<text transform="matrix(0.1378 0 0 0.1394 550.60 54.90)" font-size="100" font-weight="bold" fill="#000">1</text>
<text transform="matrix(0.2511 0 0 0.3227 452.90 138.90)" font-size="100" fill="#000">Q</text>
<path d="M477.4 118.8L475.0 124.8" stroke="#000" stroke-width="1.5" fill="none"/>
<text transform="matrix(0.1545 0 0 0.1270 472.75 143.47)" font-size="100" font-weight="bold" fill="#000">p</text>
<path d="M484.9 125.0H501.8M484.9 132.5H501.8" stroke="#000" stroke-width="1.8" fill="none"/>
<text transform="matrix(0.2845 0 0 0.3227 507.38 139.10)" font-size="100" fill="#000">1</text>
<text transform="matrix(0.3581 0 0 0.3227 524.95 139.10)" font-size="100" fill="#000">0</text>
<text transform="matrix(0.1747 0 0 0.1441 543.68 124.88)" font-size="100" font-weight="bold" fill="#000">8.0</text>
<text transform="matrix(0.3520 0 0 0.3188 452.47 173.48)" font-size="100" fill="#000">e</text>
<text transform="matrix(0.1633 0 0 0.1410 470.07 178.30)" font-size="100" font-weight="bold" fill="#000">i</text>
<path d="M478.0 159.9H495.2M478.0 167.4H495.2" stroke="#000" stroke-width="1.8" fill="none"/>
<text transform="matrix(0.3804 0 0 0.3152 499.67 173.50)" font-size="100" fill="#000">0.80</text>
<text transform="matrix(0.3354 0 0 0.2931 452.36 208.70)" font-size="100" fill="#000">P</text>
<text transform="matrix(0.1651 0 0 0.1348 470.32 212.87)" font-size="100" font-weight="bold" fill="#000">0</text>
<path d="M480.7 197.2H497.1M480.7 203.9H497.1" stroke="#000" stroke-width="1.8" fill="none"/>
<text transform="matrix(0.2789 0 0 0.2864 501.13 208.70)" font-size="100" fill="#000">1</text>
<text transform="matrix(0.3233 0 0 0.2924 517.97 208.70)" font-size="100" fill="#000">0</text>
<text transform="matrix(0.2776 0 0 0.2187 537.23 208.70)" font-size="100" stroke="#000" stroke-width="0.3" vector-effect="non-scaling-stroke" fill="#000">days</text>
<text transform="matrix(0.2187 0 0 0.3038 139.76 181.90)" font-size="100" stroke="#000" stroke-width="0.55" vector-effect="non-scaling-stroke" fill="#000">W</text>
<text transform="matrix(0.2284 0 0 0.3038 161.27 181.90)" font-size="100" stroke="#000" stroke-width="0.55" vector-effect="non-scaling-stroke" fill="#000">A</text>
<text transform="matrix(0.3163 0 0 0.3038 181.14 181.90)" font-size="100" stroke="#000" stroke-width="0.3" vector-effect="non-scaling-stroke" fill="#000">S</text>
<text transform="matrix(0.3354 0 0 0.3038 200.86 181.90)" font-size="100" stroke="#000" stroke-width="0.3" vector-effect="non-scaling-stroke" fill="#000">P</text>
<text transform="matrix(0.3441 0 0 0.3038 245.71 181.90)" font-size="100" stroke="#000" stroke-width="0.3" vector-effect="non-scaling-stroke" fill="#000">4</text>
<text transform="matrix(0.3290 0 0 0.3079 267.20 181.90)" font-size="100" stroke="#000" stroke-width="0.3" vector-effect="non-scaling-stroke" fill="#000">b</text>
<path d="M224.7 172.5L241.5 172.5" stroke="#000" stroke-width="1.6" fill="none"/>
<text transform="matrix(0.3333 0 0 0.3348 140.07 209.10)" font-size="100" stroke="#000" stroke-width="0.3" vector-effect="non-scaling-stroke" fill="#000">s</text>
<text transform="matrix(0.2977 0 0 0.3348 154.06 209.10)" font-size="100" stroke="#000" stroke-width="0.3" vector-effect="non-scaling-stroke" fill="#000">o</text>
<text transform="matrix(0.3671 0 0 0.3348 187.52 209.10)" font-size="100" stroke="#000" stroke-width="0.3" vector-effect="non-scaling-stroke" fill="#000">a</text>
<text transform="matrix(0.4185 0 0 0.3348 206.23 209.10)" font-size="100" stroke="#000" stroke-width="0.3" vector-effect="non-scaling-stroke" fill="#000">r</text>
<text transform="matrix(0.3687 0 0 0.2950 171.19 209.10)" font-size="100" stroke="#000" stroke-width="0.3" vector-effect="non-scaling-stroke" fill="#000">l</text>
<text transform="matrix(0.3772 0 0 0.3188 195.58 288.18)" font-size="100" fill="#000">a</text>
<text transform="matrix(0.1592 0 0 0.1453 213.98 293.00)" font-size="100" font-weight="bold" fill="#000">i</text>
<path d="M227.8 278.8H245.0M227.8 286.1H245.0" stroke="#000" stroke-width="1.9" fill="none"/>
<text transform="matrix(0.2537 0 0 0.2135 254.71 288.40)" font-size="100" stroke="#2e3192" stroke-width="0.3" vector-effect="non-scaling-stroke" fill="#2e3192">0.050</text>
<text transform="matrix(0.2579 0 0 0.2135 319.10 288.40)" font-size="100" stroke="#00a651" stroke-width="0.3" vector-effect="non-scaling-stroke" fill="#00a651">0.052</text>
<text transform="matrix(0.2527 0 0 0.2135 391.32 288.40)" font-size="100" stroke="#ed1c24" stroke-width="0.3" vector-effect="non-scaling-stroke" fill="#ed1c24">0.054</text>
</svg>
</body></html>
